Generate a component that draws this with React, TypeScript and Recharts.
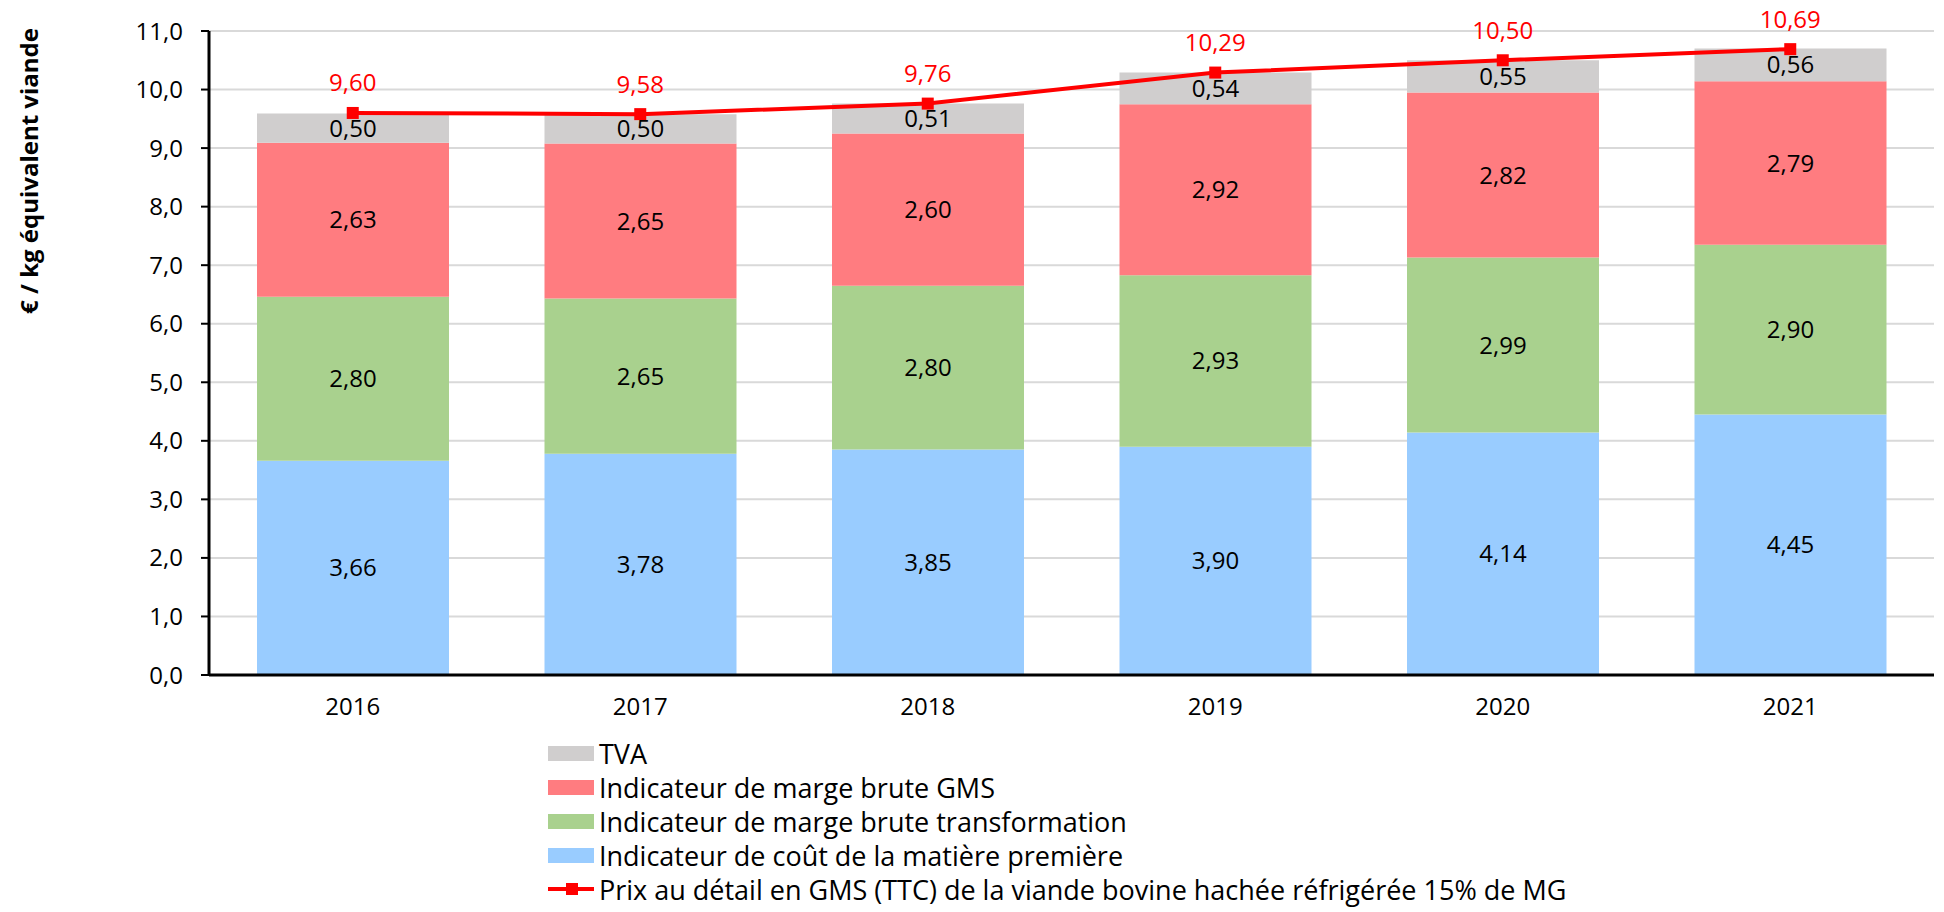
import React from 'react';
import {
  ComposedChart,
  Bar,
  Line,
  XAxis,
  YAxis,
  CartesianGrid,
  LabelList,
} from 'recharts';

const years = ['2016', '2017', '2018', '2019', '2020', '2021'];
const matiere = [3.66, 3.78, 3.85, 3.9, 4.14, 4.45];
const transformation = [2.8, 2.65, 2.8, 2.93, 2.99, 2.9];
const margeGms = [2.63, 2.65, 2.6, 2.92, 2.82, 2.79];
const tva = [0.5, 0.5, 0.51, 0.54, 0.55, 0.56];
const prix = [9.6, 9.58, 9.76, 10.29, 10.5, 10.69];
const yTicks = [0, 1, 2, 3, 4, 5, 6, 7, 8, 9, 10, 11];

const data = years.map((year, i) => ({
  year,
  matiere: matiere[i],
  transformation: transformation[i],
  margeGms: margeGms[i],
  tva: tva[i],
  prix: prix[i],
}));

const FONT = '"Open Sans", sans-serif';
const FS = 24;

const barSeries = [
  { key: 'tva', name: 'TVA', color: '#D0CECE' },
  { key: 'margeGms', name: 'Indicateur de marge brute GMS', color: '#FF7C80' },
  { key: 'transformation', name: 'Indicateur de marge brute transformation', color: '#A9D18E' },
  { key: 'matiere', name: 'Indicateur de coût de la matière première', color: '#99CCFF' },
];
const lineName = 'Prix au détail en GMS (TTC) de la viande bovine hachée réfrigérée 15% de MG';

const fr = (v: number, d: number) => v.toFixed(d).replace('.', ',');

const SquareDot = (props: any) => {
  const { cx, cy } = props;
  if (cx == null || cy == null) return null;
  return <rect x={cx - 6} y={cy - 6} width={12} height={12} fill="#FF0000" />;
};

const PriceLabel = (props: any) => {
  const { x, y, value } = props;
  return (
    <text x={x} y={y - 31} textAnchor="middle" dominantBaseline="central" fill="#FF0000" fontSize={FS} fontFamily={FONT}>
      {fr(value, 2)}
    </text>
  );
};

function Legend() {
  return (
    <div style={{ position: 'absolute', left: 548, top: 736, fontFamily: FONT, fontSize: 27, color: '#000' }}>
      {barSeries.map((s) => (
        <div key={s.key} style={{ display: 'flex', alignItems: 'center', height: 34 }}>
          <span style={{ width: 46, height: 15, background: s.color, marginRight: 5, display: 'inline-block' }} />
          <span>{s.name}</span>
        </div>
      ))}
      <div style={{ display: 'flex', alignItems: 'center', height: 34 }}>
        <svg width={46} height={16} style={{ marginRight: 5 }}>
          <line x1={0} y1={8} x2={46} y2={8} stroke="#FF0000" strokeWidth={4} />
          <rect x={18} y={2} width={12} height={12} fill="#FF0000" />
        </svg>
        <span>{lineName}</span>
      </div>
    </div>
  );
}

export default function App() {
  const stackOrder = [...barSeries].reverse();
  return (
    <div style={{ position: 'absolute', left: 0, top: 0, width: 1944, height: 912, background: '#fff' }}>
      <ComposedChart
        width={1944}
        height={912}
        data={data}
        margin={{ top: 31, right: 10, bottom: 197, left: 129 }}
      >
        <CartesianGrid vertical={false} stroke="#D9D9D9" strokeWidth={2} />
        <XAxis
          dataKey="year"
          height={40}
          tickLine={false}
          tickSize={0}
          tickMargin={23}
          axisLine={{ stroke: '#000', strokeWidth: 3 }}
          tick={{ fill: '#000', fontSize: FS, fontFamily: FONT }}
        />
        <YAxis
          width={80}
          domain={[0, 11]}
          ticks={yTicks}
          interval={0}
          tickFormatter={(v: number) => fr(v, 1)}
          tickSize={8}
          tickMargin={18}
          axisLine={{ stroke: '#000', strokeWidth: 3 }}
          tickLine={{ stroke: '#000', strokeWidth: 2 }}
          tick={{ fill: '#000', fontSize: FS, fontFamily: FONT }}
        />
        {stackOrder.map((s) => (
          <Bar key={s.key} dataKey={s.key} name={s.name} stackId="a" fill={s.color} barSize={192} isAnimationActive={false}>
            <LabelList
              dataKey={s.key}
              position="center"
              formatter={(v: any) => fr(Number(v), 2)}
              fill="#000"
              fontSize={FS}
              fontFamily={FONT}
            />
          </Bar>
        ))}
        <Line
          dataKey="prix"
          name={lineName}
          stroke="#FF0000"
          strokeWidth={4}
          dot={<SquareDot />}
          activeDot={false}
          isAnimationActive={false}
        >
          <LabelList dataKey="prix" content={<PriceLabel />} />
        </Line>
        <text
          x={28}
          y={171}
          transform="rotate(-90 28 171)"
          textAnchor="middle"
          dominantBaseline="central"
          fontSize={FS}
          fontWeight="bold"
          fontFamily={FONT}
          fill="#000"
        >
          € / kg équivalent viande
        </text>
      </ComposedChart>
      <Legend />
    </div>
  );
}
